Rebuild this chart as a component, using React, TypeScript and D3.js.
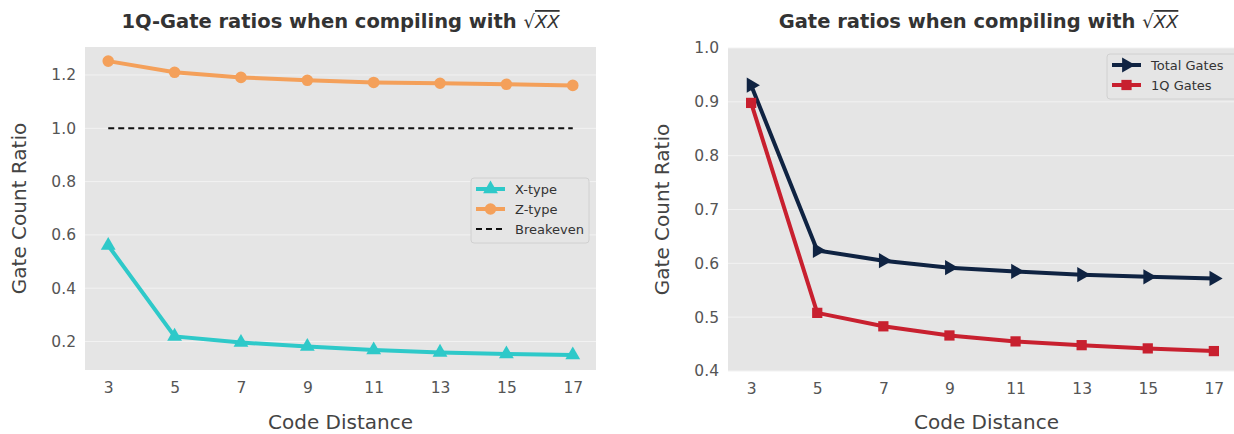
import React, { useEffect, useRef } from "react";
import * as d3 from "d3";

const codeDistance = [3, 5, 7, 9, 11, 13, 15, 17];
const xTypeRatio = [0.56, 0.219, 0.196, 0.181, 0.168, 0.159, 0.153, 0.149];
const zTypeRatio = [1.252, 1.21, 1.191, 1.18, 1.172, 1.169, 1.165, 1.161];
const breakevenRatio = [1.0, 1.0, 1.0, 1.0, 1.0, 1.0, 1.0, 1.0];
const totalGatesRatio = [0.931, 0.624, 0.605, 0.592, 0.585, 0.579, 0.575, 0.572];
const oneQGatesRatio = [0.898, 0.508, 0.483, 0.466, 0.455, 0.448, 0.442, 0.437];
const leftYTicks = [0.2, 0.4, 0.6, 0.8, 1.0, 1.2];
const rightYTicks = [0.4, 0.5, 0.6, 0.7, 0.8, 0.9, 1.0];

const FONT = "DejaVu Sans, sans-serif";

function drawPanel(svg, cfg) {
    const { left, top, w, h, yDomain, yTicks, series, title, legend } = cfg;
    const g = svg.append("g").attr("transform", `translate(${left}, ${top})`);

    const x = d3.scaleLinear().domain([2.3, 17.7]).range([0, w]);
    const y = d3.scaleLinear().domain(yDomain).range([h, 0]);

    g.append("rect").attr("width", w).attr("height", h).attr("fill", "#e5e5e5");

    // grid
    g.selectAll(".hgrid").data(yTicks).join("line")
        .attr("x1", 0).attr("x2", w)
        .attr("y1", d => y(d)).attr("y2", d => y(d))
        .attr("stroke", "#f2f2f2").attr("stroke-width", 1);

    // Y axis
    const yAxis = g.append("g").call(d3.axisLeft(y).tickValues(yTicks).tickFormat(d3.format(".1f")).tickSize(0).tickPadding(9));
    yAxis.select(".domain").remove();
    yAxis.selectAll("text").attr("font-size", 15.5).attr("fill", "#555").attr("font-family", FONT);

    // X axis
    const xAxis = g.append("g").attr("transform", `translate(0, ${h})`)
        .call(d3.axisBottom(x).tickValues(codeDistance).tickFormat(d3.format("d")).tickSize(0).tickPadding(12));
    xAxis.select(".domain").remove();
    xAxis.selectAll("text").attr("font-size", 15.5).attr("fill", "#555").attr("font-family", FONT);

    // lines
    series.forEach(s => {
        const line = d3.line().x((d, i) => x(codeDistance[i])).y(d => y(d));
        g.append("path").datum(s.values)
            .attr("fill", "none").attr("stroke", s.color)
            .attr("stroke-width", s.width)
            .attr("stroke-dasharray", s.dash || null)
            .attr("d", line);
        if (s.symbol) {
            g.selectAll(null).data(s.values).join("path")
                .attr("d", d3.symbol().type(s.symbol).size(s.size))
                .attr("transform", (d, i) => `translate(${x(codeDistance[i])}, ${y(d)}) rotate(${s.rotate || 0})`)
                .attr("fill", s.color);
        }
    });

    // Title
    const t = svg.append("text")
        .attr("x", left + w / 2 + cfg.titleShift).attr("y", 28)
        .attr("text-anchor", "middle")
        .attr("font-family", FONT).attr("font-size", 19.5).attr("fill", "#333");
    t.append("tspan").attr("font-weight", "bold").text(title);
    t.append("tspan").attr("font-size", 18).text("√");
    t.append("tspan").attr("font-style", "italic").attr("font-size", 18)
        .attr("text-decoration", "overline").text("XX");

    // axis labels
    svg.append("text")
        .attr("transform", `translate(${left - 59}, ${top + h / 2}) rotate(-90)`)
        .attr("text-anchor", "middle").attr("font-family", FONT)
        .attr("font-size", 20).attr("fill", "#444").text("Gate Count Ratio");
    svg.append("text")
        .attr("x", left + w / 2 - cfg.titleShift).attr("y", 429)
        .attr("text-anchor", "middle").attr("font-family", FONT)
        .attr("font-size", 20).attr("fill", "#444").text("Code Distance");

    // Legend
    const lg = g.append("g").attr("transform", `translate(${legend.x}, ${legend.y})`);
    lg.append("rect").attr("width", legend.w).attr("height", legend.items.length * 20 + 5)
        .attr("rx", 3).attr("fill", "#e5e5e5").attr("stroke", "#d0d0d0");
    legend.items.forEach((s, i) => {
        const cy = 11 + i * 20;
        lg.append("line").attr("x1", 5).attr("x2", 34).attr("y1", cy).attr("y2", cy)
            .attr("stroke", s.color).attr("stroke-width", s.width)
            .attr("stroke-dasharray", s.dash || null);
        if (s.symbol) {
            lg.append("path").attr("d", d3.symbol().type(s.symbol).size(s.size))
                .attr("transform", `translate(19.5, ${cy}) rotate(${s.rotate || 0})`)
                .attr("fill", s.color);
        }
        lg.append("text").attr("x", 44).attr("y", cy + 4.5)
            .attr("font-family", FONT).attr("font-size", 13).attr("fill", "#333")
            .text(s.name);
    });
}

const App = () => {
    const ref = useRef(null);

    useEffect(() => {
        const svg = d3.select(ref.current);
        svg.selectAll("*").remove();

        const xSeries = { name: "X-type", values: xTypeRatio, color: "#2ec9c9", width: 4, symbol: d3.symbolTriangle, size: 95 };
        const zSeries = { name: "Z-type", values: zTypeRatio, color: "#f4a05a", width: 4, symbol: d3.symbolCircle, size: 105 };
        const bSeries = { name: "Breakeven", values: breakevenRatio, color: "#111", width: 2, dash: "6,4" };

        drawPanel(svg, {
            left: 85, top: 47, w: 511, h: 323,
            yDomain: [0.093, 1.305], yTicks: leftYTicks,
            series: [xSeries, zSeries, bSeries],
            title: "1Q-Gate ratios when compiling with ",
            titleShift: 0,
            legend: { x: 386, y: 131, w: 118, items: [xSeries, zSeries, bSeries] },
        });

        const tSeries = { name: "Total Gates", values: totalGatesRatio, color: "#0f2342", width: 4, symbol: d3.symbolTriangle, size: 100, rotate: 90 };
        const qSeries = { name: "1Q Gates", values: oneQGatesRatio, color: "#c8202f", width: 4, symbol: d3.symbolSquare, size: 105 };

        drawPanel(svg, {
            left: 728, top: 48, w: 509, h: 323,
            yDomain: [0.4, 1.0], yTicks: rightYTicks,
            series: [tSeries, qSeries],
            title: "Gate ratios when compiling with ",
            titleShift: -4,
            legend: { x: 379, y: 6, w: 130, items: [tSeries, qSeries] },
        });
    }, []);

    return (
        <svg ref={ref} width={1234} height={434} style={{ position: "absolute", left: 0, top: 0, background: "#fff" }}></svg>
    );
};

export default App;
